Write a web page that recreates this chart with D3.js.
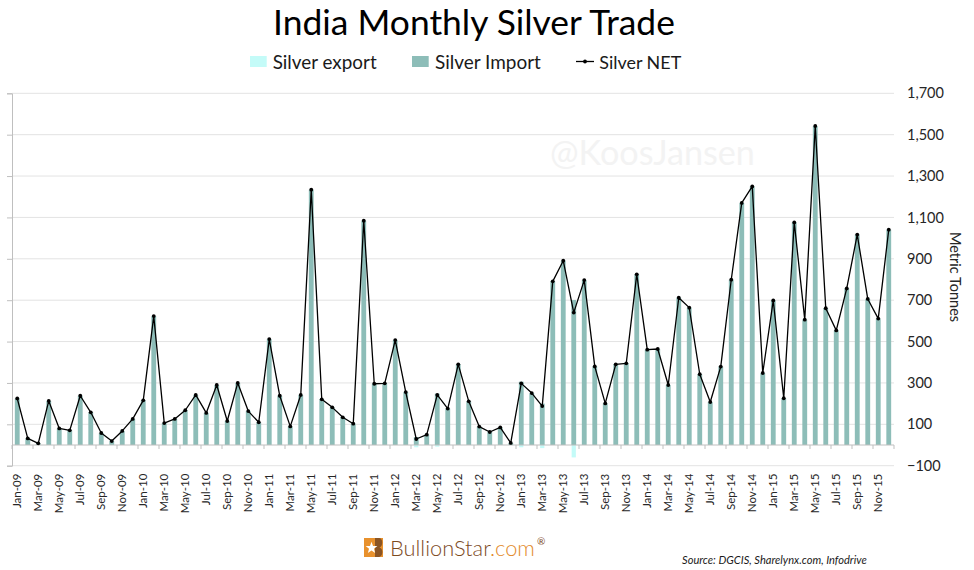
<!DOCTYPE html>
<html><head><meta charset="utf-8">
<script src="https://cdn.jsdelivr.net/npm/d3@7"></script>
<style>
html,body{margin:0;padding:0;background:#fff;}
svg{display:block;font-family:Lato,"Open Sans",sans-serif;}
</style></head>
<body>
<svg id="chart" width="974" height="570"></svg>
<script>
const years = ["09","10","11","12","13","14","15"];
const monthNames = ["Jan","Feb","Mar","Apr","May","Jun","Jul","Aug","Sep","Oct","Nov","Dec"];
const months = years.flatMap(y => monthNames.map(m => m + "-" + y));

const silverImport = [
  225, 32, 8, 213, 80, 71, 238, 158, 58, 19, 68, 126,
  216, 623, 106, 126, 168, 242, 155, 290, 116, 300, 164, 110,
  512, 238, 90, 242, 1234, 221, 182, 134, 103, 1084, 296, 298,
  507, 256, 38, 50, 248, 176, 390, 211, 89, 63, 85, 10,
  306, 251, 200, 791, 891, 701, 797, 380, 201, 390, 395, 825,
  461, 464, 290, 712, 664, 342, 208, 379, 799, 1170, 1250, 348,
  699, 226, 1076, 606, 1542, 661, 554, 757, 1017, 706, 611, 1041
];
const silverExport = [
  0,0,0,0,0,0,0,0,0,0,0,0,
  0,0,0,0,0,0,0,0,0,0,0,0,
  0,0,0,0,0,0,0,0,0,0,0,0,
  0,0,-11,0,-8,0,0,0,0,0,0,0,
  -11,0,-15,0,0,-60,0,0,0,0,0,0,
  0,0,0,0,0,0,0,0,0,0,0,0,
  0,0,0,0,0,0,0,0,0,0,0,0
];
const silverNet = [
  225, 32, 8, 213, 80, 71, 238, 158, 58, 19, 68, 126,
  216, 623, 106, 126, 168, 242, 155, 290, 116, 300, 164, 110,
  512, 238, 90, 242, 1234, 221, 182, 134, 103, 1084, 296, 298,
  507, 256, 29, 50, 242, 176, 390, 211, 89, 63, 85, 10,
  298, 251, 188, 791, 891, 640, 797, 380, 201, 390, 395, 825,
  461, 464, 290, 712, 664, 342, 208, 379, 799, 1170, 1250, 348,
  699, 226, 1076, 606, 1542, 661, 554, 757, 1017, 706, 611, 1041
];
const yTicks = [-100, 100, 300, 500, 700, 900, 1100, 1300, 1500, 1700];

const title = "India Monthly Silver Trade";
const legendItems = ["Silver export", "Silver Import", "Silver NET"];
const yAxisTitle = "Metric Tonnes";
const watermark = "@KoosJansen";
const sourceText = "Source: DGCIS, Sharelynx.com, Infodrive";

const colImport = "#8dbdb8", colExport = "#c4fbf8", colNet = "#000";
const svg = d3.select("#chart");
const L = 12, R = 894, T = 93.3, B = 465.7;

const x = d3.scaleBand().domain(months).range([L, R]).paddingInner(0.54).paddingOuter(0.27);
const y = d3.scaleLinear().domain([-100, 1700]).range([B, T]);
const cx = m => x(m) + x.bandwidth() / 2;

function fit(sel, w) {
  const fs = parseFloat(sel.attr("font-size"));
  const cur = sel.node().getComputedTextLength();
  sel.attr("font-size", fs * w / cur);
  return sel;
}

// gridlines
svg.append("g").selectAll("line").data(yTicks).join("line")
  .attr("x1", L).attr("x2", R).attr("y1", d => y(d)).attr("y2", d => y(d))
  .attr("stroke", "#e3e3e3").attr("stroke-width", 1);

// watermark
fit(svg.append("text").attr("x", 550).attr("y", 165).attr("font-size", 28)
  .attr("fill", "#f3f3f3").text(watermark), 205);

// left axis (no labels)
const leftAxis = d3.axisLeft(y).tickValues(yTicks).tickSize(5).tickFormat("");
const gl = svg.append("g").attr("transform", `translate(${L},0)`).call(leftAxis);
gl.selectAll("path,line").attr("stroke", "#bfbfbf");

// right axis labels
const rightAxis = d3.axisRight(y).tickValues(yTicks).tickSize(0).tickPadding(13).tickFormat(d3.format(","));
const gr = svg.append("g").attr("transform", `translate(${R},0)`).call(rightAxis);
gr.select(".domain").remove();
gr.selectAll("text").attr("font-family", "Lato, sans-serif").attr("font-size", 14.5).attr("fill", "#262626");

// y-axis title
svg.append("text").attr("transform", "translate(950,277) rotate(90)")
  .attr("text-anchor", "middle").attr("font-size", 14.5).attr("fill", "#262626").text(yAxisTitle);

// bars
svg.append("g").selectAll("rect").data(months).join("rect")
  .attr("x", m => x(m)).attr("width", x.bandwidth())
  .attr("y", (m, i) => y(Math.max(0, silverImport[i])))
  .attr("height", (m, i) => Math.abs(y(silverImport[i]) - y(0)))
  .attr("fill", colImport);
svg.append("g").selectAll("rect").data(months).join("rect")
  .attr("x", m => x(m) + 0.3).attr("width", x.bandwidth() - 0.6)
  .attr("y", y(0))
  .attr("height", (m, i) => Math.abs(y(silverExport[i]) - y(0)))
  .attr("fill", colExport);

// baseline + category ticks
svg.append("line").attr("x1", L).attr("x2", R).attr("y1", y(0)).attr("y2", y(0))
  .attr("stroke", "#bfbfbf");
const tickBounds = months.filter((m, i) => i % 2 === 0).map(m => x(m) - x.step() * x.paddingInner() / 2).concat([R]);
svg.append("g").selectAll("line").data(tickBounds).join("line")
  .attr("x1", d => d).attr("x2", d => d).attr("y1", y(0)).attr("y2", y(0) + 4)
  .attr("stroke", "#bfbfbf");

// x labels
const bottomAxis = d3.axisBottom(x).tickValues(months.filter((m, i) => i % 2 === 0)).tickSize(0).tickPadding(0);
const gb = svg.append("g").attr("transform", `translate(0,${B})`).call(bottomAxis);
gb.select(".domain").remove();
gb.selectAll("text").attr("font-family", "Lato, sans-serif").attr("font-size", 11.5).attr("fill", "#262626")
  .attr("text-anchor", "end").attr("dy", null)
  .attr("transform", "translate(4,8) rotate(-90)");

// net line
const line = d3.line().x((d, i) => cx(months[i])).y(d => y(d));
svg.append("path").datum(silverNet).attr("d", line)
  .attr("fill", "none").attr("stroke", colNet).attr("stroke-width", 1.3).attr("stroke-linejoin", "round");
svg.append("g").selectAll("circle").data(silverNet).join("circle")
  .attr("cx", (d, i) => cx(months[i])).attr("cy", d => y(d)).attr("r", 1.9).attr("fill", colNet);

// title
fit(svg.append("text").attr("x", 474).attr("y", 35).attr("text-anchor", "middle")
  .attr("font-size", 32).attr("fill", "#000").text(title), 402);

// legend
const leg = [
  {sx: 250, tx: 272.7, w: 104, type: "rect", col: colExport},
  {sx: 412, tx: 435, w: 106, type: "rect", col: colImport},
  {sx: 576, tx: 599.3, w: 82, type: "line", col: colNet}
];
leg.forEach((l, i) => {
  if (l.type === "rect") {
    svg.append("rect").attr("x", l.sx).attr("y", 56).attr("width", 16.7).attr("height", 11).attr("fill", l.col);
  } else {
    svg.append("line").attr("x1", l.sx).attr("x2", l.sx + 18).attr("y1", 61.5).attr("y2", 61.5)
      .attr("stroke", l.col).attr("stroke-width", 1.3);
    svg.append("circle").attr("cx", l.sx + 9).attr("cy", 61.5).attr("r", 1.9).attr("fill", l.col);
  }
  fit(svg.append("text").attr("x", l.tx).attr("y", 68.5).attr("font-size", 19)
    .attr("fill", "#1a1a1a").text(legendItems[i]), l.w);
});

// footer logo
const lg = svg.append("g").attr("transform", "translate(364,538)");
lg.append("rect").attr("x", 0).attr("y", 0).attr("width", 19).attr("height", 19).attr("fill", "#e8912d");
lg.append("path").attr("d", "M11,0 H15 C19,0 19.5,8 15.5,9.5 C20,11 19,19 14.5,19 H11 Z").attr("fill", "#8a5424");
const star = d3.range(10).map(k => {
  const a = -Math.PI / 2 + k * Math.PI / 5, r = k % 2 ? 2.6 : 6.2;
  return [7.5 + r * Math.cos(a), 10 + r * Math.sin(a)];
});
lg.append("path").attr("d", "M" + star.join("L") + "Z").attr("fill", "#fff");

const brand = svg.append("text").attr("x", 390).attr("y", 556).attr("font-size", 25).attr("font-weight", 300);
brand.append("tspan").attr("fill", "#7d4b1f").text("BullionStar");
brand.append("tspan").attr("fill", "#e38b2c").text(".com");
fit(brand, 145);
svg.append("text").attr("x", 537).attr("y", 545).attr("font-size", 10).attr("fill", "#7d4b1f").text("®");

// source
fit(svg.append("text").attr("x", 866.7).attr("y", 564).attr("text-anchor", "end")
  .attr("font-size", 13).attr("font-style", "italic").attr("fill", "#1a1a1a").text(sourceText), 185);
</script>
</body></html>
